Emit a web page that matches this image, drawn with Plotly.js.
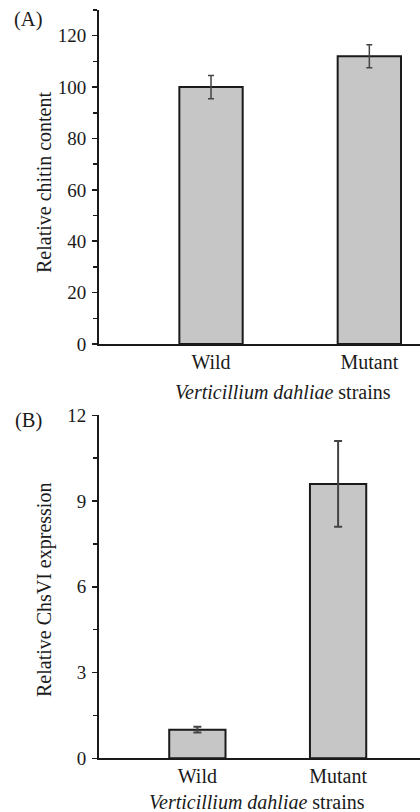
<!DOCTYPE html>
<html>
<head>
<meta charset="utf-8">
<script src="https://cdn.plot.ly/plotly-3.0.1.min.js"></script>
<style>html,body{margin:0;padding:0;background:#fff;overflow:hidden}#chart{width:420px;height:812px}</style>
</head>
<body>
<div id="chart"></div>
<script>
const categories = ['Wild', 'Mutant'];
const chitinValues = [100, 112];
const chitinErrors = [4.5, 4.5];
const expressionValues = [1.0, 9.6];
const expressionErrors = [0.1, 1.5];
const chitinTicks = [0, 20, 40, 60, 80, 100, 120];
const expressionTicks = [0, 3, 6, 9, 12];

const FONT = 'Liberation Serif, Times New Roman, serif';
const INK = '#1a1a1a';

const traces = [
  {
    type: 'bar', x: categories, y: chitinValues, xaxis: 'x', yaxis: 'y', width: 0.4,
    marker: {color: '#c6c6c6', line: {color: INK, width: 2}},
    error_y: {type: 'data', array: chitinErrors, visible: true, color: '#444', thickness: 1.5, width: 3},
    hoverinfo: 'skip', showlegend: false
  },
  {
    type: 'bar', x: categories, y: expressionValues, xaxis: 'x2', yaxis: 'y2', width: 0.4,
    marker: {color: '#c6c6c6', line: {color: INK, width: 2}},
    error_y: {type: 'data', array: expressionErrors, visible: true, color: '#444', thickness: 2, width: 4},
    hoverinfo: 'skip', showlegend: false
  }
];

function xAxis(anchor, range) {
  return {
    domain: [99/420, 1], anchor: anchor, type: 'category', range: range,
    showline: true, linecolor: INK, linewidth: 2, ticks: '', showgrid: false, zeroline: false,
    tickfont: {family: FONT, size: 20, color: INK}, ticklabelstandoff: -1, fixedrange: true
  };
}
function yAxis(anchor, domain, range, ticks, minorStep) {
  return {
    domain: domain, anchor: anchor, range: range,
    tickmode: 'array', tickvals: ticks, ticktext: ticks.map(String),
    showline: true, linecolor: INK, linewidth: 2, ticks: 'outside', ticklen: 5, tickwidth: 1.5, tickcolor: INK,
    minor: {dtick: minorStep, tick0: 0, ticks: 'outside', ticklen: 4, tickwidth: 1.5, tickcolor: INK, showgrid: false},
    showgrid: false, zeroline: false,
    tickfont: {family: FONT, size: 19, color: INK}, ticklabelstandoff: 2, fixedrange: true
  };
}

const layout = {
  width: 420, height: 812, autosize: false,
  margin: {l: 0, r: 0, t: 0, b: 0},
  paper_bgcolor: '#fff', plot_bgcolor: '#fff',
  font: {family: FONT, color: INK},
  bargap: 0,
  xaxis: xAxis('y', [-0.7075, 1.32]),
  yaxis: yAxis('x', [1 - 344/812, 1 - 10/812], [0, 130], chitinTicks, 10),
  xaxis2: xAxis('y2', [-0.699, 1.582]),
  yaxis2: yAxis('x2', [1 - 758.3/812, 1 - 415.3/812], [0, 12], expressionTicks, 1.5),
  annotations: [
    {text: '(A)', xref: 'paper', yref: 'paper', x: 28.5/420, y: 1 - 20/812, xanchor: 'center', yanchor: 'middle', showarrow: false, font: {family: FONT, size: 20.5, color: INK}},
    {text: '(B)', xref: 'paper', yref: 'paper', x: 28.3/420, y: 1 - 420/812, xanchor: 'center', yanchor: 'middle', showarrow: false, font: {family: FONT, size: 20.5, color: INK}},
    {text: 'Relative chitin content', xref: 'paper', yref: 'paper', x: 44/420, y: 1 - 183/812, textangle: -90, xanchor: 'center', yanchor: 'middle', showarrow: false, font: {family: FONT, size: 20, color: INK}},
    {text: 'Relative ChsVI expression', xref: 'paper', yref: 'paper', x: 44/420, y: 1 - 590/812, textangle: -90, xanchor: 'center', yanchor: 'middle', showarrow: false, font: {family: FONT, size: 20, color: INK}},
    {text: '<i>Verticillium dahliae</i> strains', xref: 'paper', yref: 'paper', x: 283/420, y: 1 - 391.7/812, xanchor: 'center', yanchor: 'middle', showarrow: false, font: {family: FONT, size: 20, color: INK}},
    {text: '<i>Verticillium dahliae</i> strains', xref: 'paper', yref: 'paper', x: 256.7/420, y: 1 - 801.7/812, xanchor: 'center', yanchor: 'middle', showarrow: false, font: {family: FONT, size: 20, color: INK}}
  ]
};

Plotly.newPlot('chart', traces, layout, {displayModeBar: false, staticPlot: true});
</script>
</body>
</html>
